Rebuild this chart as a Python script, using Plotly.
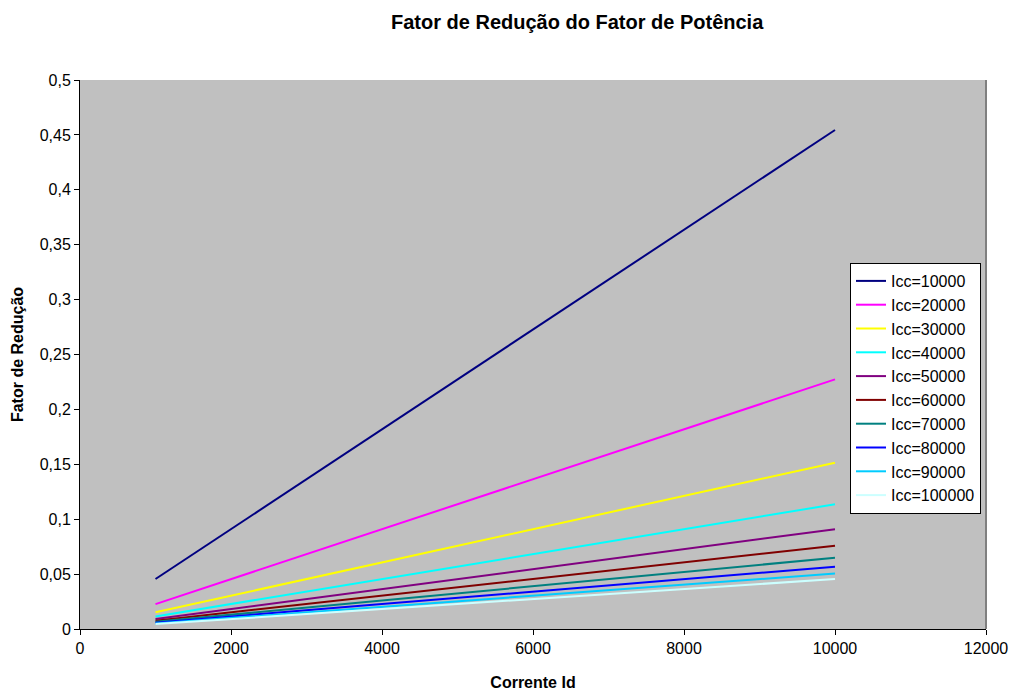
import plotly.graph_objects as go

# Corrente Id (A)
corrente_id = [1000, 2000, 3000, 4000, 5000, 6000, 7000, 8000, 9000, 10000]

# Fator de redução por corrente de curto-circuito
icc_labels = ["Icc=10000", "Icc=20000", "Icc=30000", "Icc=40000", "Icc=50000",
              "Icc=60000", "Icc=70000", "Icc=80000", "Icc=90000", "Icc=100000"]

icc_10000 = [0.0455, 0.0909, 0.1364, 0.1818, 0.2273, 0.2727, 0.3182, 0.3636, 0.4091, 0.4545]
icc_20000 = [0.0227, 0.0455, 0.0682, 0.0909, 0.1136, 0.1364, 0.1591, 0.1818, 0.2045, 0.2273]
icc_30000 = [0.0152, 0.0303, 0.0455, 0.0606, 0.0758, 0.0909, 0.1061, 0.1212, 0.1364, 0.1515]
icc_40000 = [0.0114, 0.0227, 0.0341, 0.0455, 0.0568, 0.0682, 0.0795, 0.0909, 0.1023, 0.1136]
icc_50000 = [0.0091, 0.0182, 0.0273, 0.0364, 0.0455, 0.0545, 0.0636, 0.0727, 0.0818, 0.0909]
icc_60000 = [0.0076, 0.0152, 0.0227, 0.0303, 0.0379, 0.0455, 0.0530, 0.0606, 0.0682, 0.0758]
icc_70000 = [0.0065, 0.0130, 0.0195, 0.0260, 0.0325, 0.0390, 0.0455, 0.0519, 0.0584, 0.0649]
icc_80000 = [0.0057, 0.0114, 0.0170, 0.0227, 0.0284, 0.0341, 0.0398, 0.0455, 0.0511, 0.0568]
icc_90000 = [0.0051, 0.0101, 0.0152, 0.0202, 0.0253, 0.0303, 0.0354, 0.0404, 0.0455, 0.0505]
icc_100000 = [0.0045, 0.0091, 0.0136, 0.0182, 0.0227, 0.0273, 0.0318, 0.0364, 0.0409, 0.0455]

series = [icc_10000, icc_20000, icc_30000, icc_40000, icc_50000,
          icc_60000, icc_70000, icc_80000, icc_90000, icc_100000]

colors = ["#000080", "#FF00FF", "#FFFF00", "#00FFFF", "#800080",
          "#800000", "#008080", "#0000FF", "#00CCFF", "#CCFFFF"]

x_ticks = [0, 2000, 4000, 6000, 8000, 10000, 12000]
x_tick_text = ["0", "2000", "4000", "6000", "8000", "10000", "12000"]
y_ticks = [0, 0.05, 0.1, 0.15, 0.2, 0.25, 0.3, 0.35, 0.4, 0.45, 0.5]
y_tick_text = ["0", "0,05", "0,1", "0,15", "0,2", "0,25", "0,3", "0,35", "0,4", "0,45", "0,5"]

FONT = "Liberation Sans, Arial, sans-serif"

fig = go.Figure()
for i, (name, vals, col) in enumerate(zip(icc_labels, series, colors)):
    fig.add_trace(go.Scatter(
        x=corrente_id, y=vals, mode="lines", name=name,
        line=dict(color=col, width=2),
        legendgroup=f"g{i}",
    ))

fig.update_layout(
    width=1009, height=691,
    margin=dict(l=80, r=23, t=80, b=62),
    paper_bgcolor="white",
    plot_bgcolor="#C0C0C0",
    font=dict(family=FONT, size=16, color="black"),
    showlegend=True,
    legend=dict(
        x=(850 - 80) / 906, y=(629 - 263) / 549, xanchor="left", yanchor="top",
        bgcolor="white", bordercolor="black", borderwidth=1,
        font=dict(family=FONT, size=16, color="black"),
        tracegroupgap=0,
        itemwidth=30,
    ),
    annotations=[
        dict(text="<b>Fator de Redução do Fator de Potência</b>",
             xref="paper", yref="paper", x=(577 - 80) / 906, y=1.0, yshift=58,
             xanchor="center", yanchor="middle", showarrow=False,
             font=dict(family=FONT, size=20, color="black")),
    ],
    shapes=[
        # plot area right border
        dict(type="line", xref="paper", yref="paper", x0=1, x1=1, y0=0, y1=1,
             line=dict(color="#808080", width=2)),
    ],
)

fig.update_xaxes(
    range=[0, 12000], tickvals=x_ticks, ticktext=x_tick_text,
    ticks="outside", ticklen=5, automargin=False,
    tickcolor="black", showline=True, linecolor="black", linewidth=1,
    showgrid=False, zeroline=False, mirror=False,
    title=dict(text="<b>Corrente Id</b>", font=dict(family=FONT, size=16), standoff=20),
    tickfont=dict(family=FONT, size=16),
)
fig.update_yaxes(
    range=[0, 0.5], tickvals=y_ticks, ticktext=y_tick_text,
    ticks="outside", ticklen=5, automargin=False,
    tickcolor="black", showline=True, linecolor="black", linewidth=1,
    showgrid=False, zeroline=False,
    title=dict(text="<b>Fator de Redução</b>", font=dict(family=FONT, size=16), standoff=12),
    tickfont=dict(family=FONT, size=16),
)

fig.write_html("out.html")
